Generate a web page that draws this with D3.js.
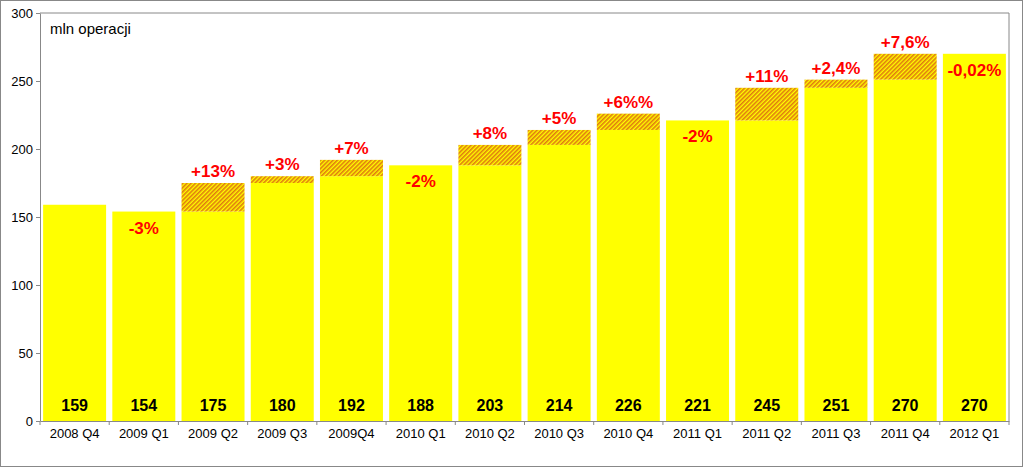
<!DOCTYPE html>
<html><head><meta charset="utf-8">
<script src="https://cdn.jsdelivr.net/npm/d3@7"></script>
<style>body{margin:0;background:#fff}svg{display:block;font-family:Arial,"Liberation Sans",sans-serif}</style>
</head><body><svg id="c" width="1023" height="467"></svg>
<script>
const categories=["2008 Q4","2009 Q1","2009 Q2","2009 Q3","2009Q4","2010 Q1","2010 Q2","2010 Q3","2010 Q4","2011 Q1","2011 Q2","2011 Q3","2011 Q4","2012 Q1"];
const values=[159,154,175,180,192,188,203,214,226,221,245,251,270,270];
const changes=["","-3%","+13%","+3%","+7%","-2%","+8%","+5%","+6%%","-2%","+11%","+2,4%","+7,6%","-0,02%"];
const yTicks=[0,50,100,150,200,250,300];

const svg=d3.select("#c");
const L=40,R=1009,T=13,B=421;
const x=d3.scaleBand().domain(categories).range([L,R]).paddingInner(0.09).paddingOuter(0.045);
const y=d3.scaleLinear().domain([0,300]).range([B,T]);
const defs=svg.append("defs");
const p=defs.append("pattern").attr("id","h").attr("patternUnits","userSpaceOnUse").attr("width",3).attr("height",3).attr("patternTransform","rotate(-45)");
p.append("rect").attr("width",3).attr("height",3).attr("fill","#ffff00");
p.append("rect").attr("width",3).attr("height",1.6).attr("fill","#e07a10");

svg.append("rect").attr("x",0.5).attr("y",0.5).attr("width",1022).attr("height",466).attr("fill","none").attr("stroke","#888");
svg.append("path").attr("d",`M${L},${T}H${R}V${B}`).attr("fill","none").attr("stroke","#888");

const g=svg.append("g");
categories.forEach((c,i)=>{
  const v=values[i], pv=i>0?values[i-1]:v;
  const base=Math.min(v,pv);
  g.append("rect").attr("x",x(c)).attr("width",x.bandwidth()).attr("y",y(base)).attr("height",B-y(base)).attr("fill","#ffff00");
  if(v>pv) g.append("rect").attr("x",x(c)).attr("width",x.bandwidth()).attr("y",y(v)).attr("height",y(pv)-y(v)).attr("fill","url(#h)");
  g.append("text").attr("x",x(c)+x.bandwidth()/2).attr("y",B-10).attr("text-anchor","middle").attr("font-size",16).attr("font-weight","bold").text(v);
  const ch=changes[i];
  if(ch){
    const neg=ch.startsWith("-");
    g.append("text").attr("x",x(c)+x.bandwidth()/2).attr("y",neg?y(v)+22:y(v)-6).attr("text-anchor","middle").attr("font-size",17).attr("font-weight","bold").attr("fill","#ff0000").text(ch);
  }
});

const ya=svg.append("g").attr("transform",`translate(${L},0)`).call(d3.axisLeft(y).tickValues(yTicks).tickSize(4).tickSizeOuter(0));
const xa=svg.append("g").attr("transform",`translate(0,${B})`).call(d3.axisBottom(x).tickSize(0).tickSizeOuter(0));
[ya,xa].forEach(a=>{a.selectAll("path,line").attr("stroke","#888");a.selectAll("text").attr("font-size",13).attr("fill","#000").attr("font-family","Arial,'Liberation Sans',sans-serif");});
xa.selectAll("text").attr("dy","1.1em");
const edges=[L].concat(categories.map(c=>x(c)+x.bandwidth()+x.step()*x.paddingInner()/2));
edges[edges.length-1]=R;
edges.forEach(e=>xa.append("line").attr("x1",e).attr("x2",e).attr("y1",0).attr("y2",4).attr("stroke","#888"));
svg.append("text").attr("x",50).attr("y",34).attr("font-size",15).text("mln operacji");
</script></body></html>
